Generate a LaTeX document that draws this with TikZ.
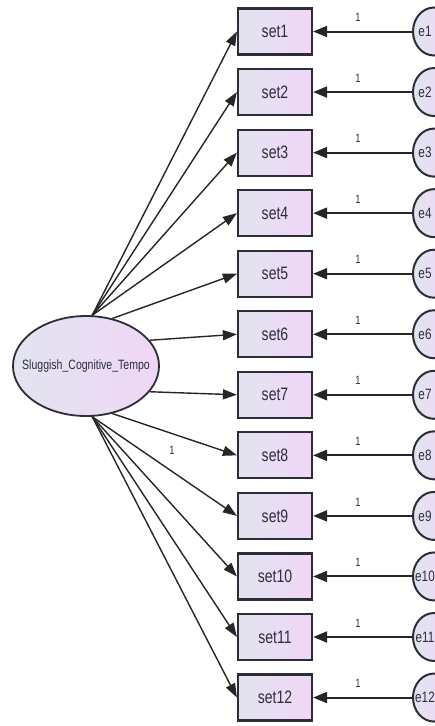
\documentclass[tikz,border=0pt]{standalone}
\usepackage{fontspec}
\setmainfont{Liberation Sans}
\newfontfamily\nar[FakeStretch=0.78]{Liberation Sans}
\usetikzlibrary{shapes.geometric,arrows.meta}
\definecolor{lc}{RGB}{226,228,240}
\definecolor{rc}{RGB}{240,214,246}
\definecolor{edgec}{RGB}{45,45,55}
\definecolor{txt}{RGB}{45,45,65}
\tikzset{
 obs/.style={rectangle, draw=edgec, line width=2.2pt, left color=lc, right color=rc, minimum width=74pt, minimum height=46pt, inner sep=0pt, font=\nar\fontsize{18}{18}\selectfont, text=txt},
 latent/.style={ellipse, draw=edgec, line width=1.8pt, left color=lc, right color=rc, minimum width=146pt, minimum height=100pt, inner sep=0pt, font=\nar\fontsize{13.5}{13.5}\selectfont, text=txt},
 errnode/.style={ellipse, draw=edgec, line width=2pt, left color=lc, right color=rc, minimum width=42pt, minimum height=48pt, inner sep=0pt},
 errtxt/.style={inner sep=0pt, font=\nar\fontsize{15}{15}\selectfont, text=txt},
 load/.style={-{Triangle[length=14pt,width=10pt]}, line width=1.4pt, draw=black!85},
 errarr/.style={-{Triangle[length=14pt,width=11pt]}, line width=2pt, draw=black!85},
 one/.style={inner sep=0pt, font=\nar\fontsize{12}{12}\selectfont, text=txt},
}
\begin{document}
\begin{tikzpicture}[x=1pt,y=-1pt]
\useasboundingbox (0,0) rectangle (435,726);
\clip (0,0) rectangle (435,726);
\node[latent] (lat) at (86,366) {\makebox[0pt]{Sluggish\_Cognitive\_Tempo}};
\foreach \i in {1,...,12} {
  \pgfmathsetmacro\yy{31.5+60.55*(\i-1)}
  \node[obs] (s\i) at (275,\yy) {set\i};
  \node[errnode] (e\i) at (434,\yy) {};
  \node[errtxt] (et\i) at (425,\yy) {e\i};
  \draw[errarr] (e\i) -- (s\i);
  \node[one] (o\i) at (358,\yy-14) {1};
}
\foreach \i in {1,...,4} \draw[load] (lat.83) -- (s\i.west);
\draw[load] (lat.61) -- (s5.west);
\draw[load] (lat.22) -- (s6.west);
\draw[load] (lat.-22) -- (s7.west);
\draw[load] (lat.-61) -- (s8.west);
\foreach \i in {9,...,12} \draw[load] (lat.-83) -- (s\i.west);
\node[one] (o8l) at (172,450) {1};
\end{tikzpicture}
\end{document}
